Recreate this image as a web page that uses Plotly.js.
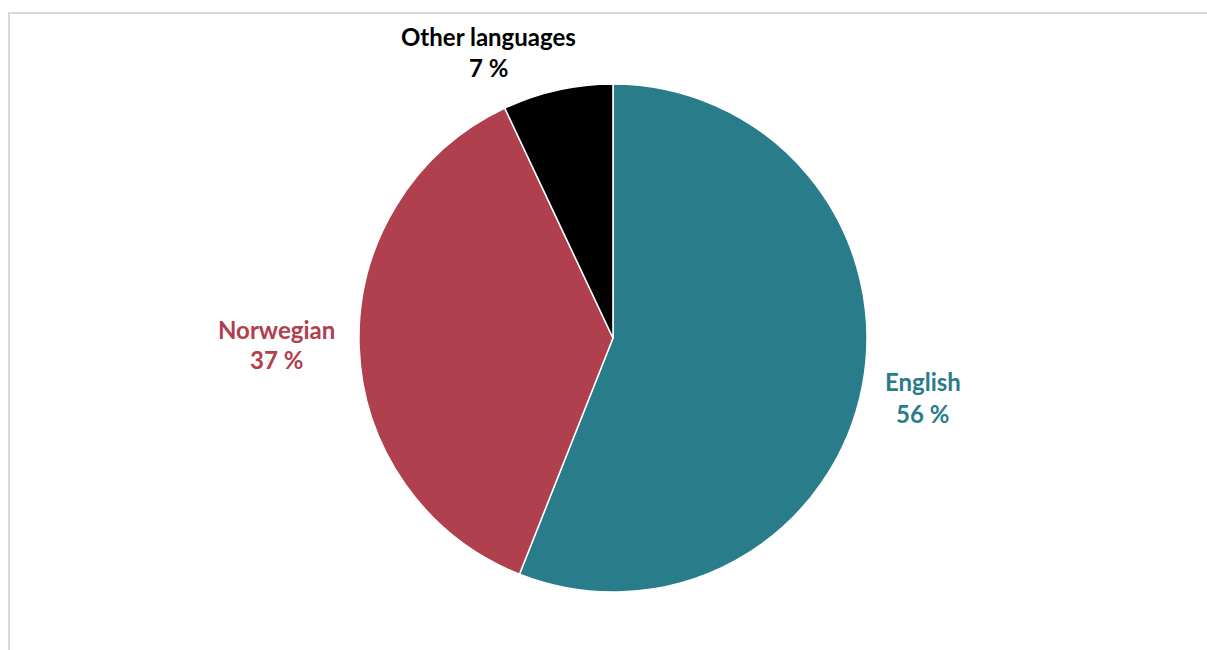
<!DOCTYPE html>
<html>
<head>
<meta charset="utf-8">
<script src="https://cdn.plot.ly/plotly-3.0.1.min.js"></script>
<style>
html,body{margin:0;padding:0;background:#fff;}
#frame{position:absolute;left:8px;top:12px;width:1210px;height:660px;border:2px solid #d9d9d9;box-sizing:border-box;}
#chart{position:absolute;left:0;top:0;width:1207px;height:650px;}
</style>
</head>
<body>
<div id="frame"></div>
<div id="chart"></div>
<script>
const categories = ["English", "Norwegian", "Other languages"];
const shares = [56, 37, 7];
const sliceColors = ["#297d8b", "#b0404d", "#000000"];
// label anchor positions (paper coords) for the name line and the percent line
const labelX = [0.7647, 0.2287, 0.4051];
const nameY = [0.4138, 0.4938, 0.9446];
const pctY = [0.3646, 0.4462, 0.8954];

const trace = {
  type: "pie",
  labels: categories,
  values: shares,
  sort: false,
  direction: "clockwise",
  rotation: 0,
  marker: {colors: sliceColors, line: {color: "#ffffff", width: 1.5}},
  textinfo: "none",
  hoverinfo: "label+percent",
  domain: {x: [0.2974, 0.7183], y: [0.0892, 0.8708]},
  showlegend: false
};

const annotations = [];
categories.forEach((c, i) => {
  const col = sliceColors[i];
  annotations.push({xref: "paper", yref: "paper", x: labelX[i], y: nameY[i], text: "<b>" + c + "</b>",
    showarrow: false, xanchor: "center", yanchor: "middle", font: {family: "Lato, 'Open Sans', sans-serif", size: 24, color: col}});
  annotations.push({xref: "paper", yref: "paper", x: labelX[i], y: pctY[i], text: "<b>" + shares[i] + " %</b>",
    showarrow: false, xanchor: "center", yanchor: "middle", font: {family: "Lato, 'Open Sans', sans-serif", size: 24, color: col}});
});

Plotly.newPlot("chart", [trace], {
  width: 1207, height: 650,
  margin: {l: 0, r: 0, t: 0, b: 0},
  paper_bgcolor: "rgba(0,0,0,0)",
  plot_bgcolor: "rgba(0,0,0,0)",
  annotations: annotations
}, {displayModeBar: false, staticPlot: true});
</script>
</body>
</html>
